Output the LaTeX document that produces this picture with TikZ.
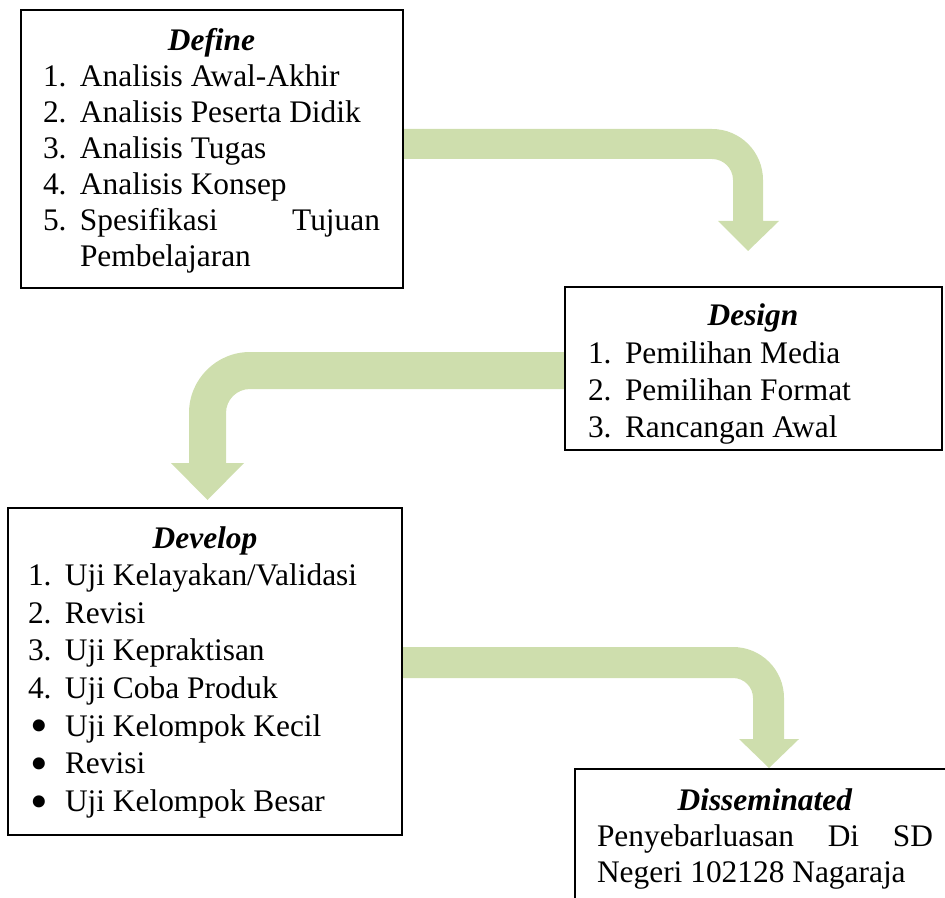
\documentclass[tikz,border=0pt]{standalone}
\usepackage{fontspec}
\setmainfont{Liberation Serif}
\usepackage{graphicx}
\usepackage{xcolor}
\usepackage{tikz}
\usetikzlibrary{calc,backgrounds}
\definecolor{leafgreen}{RGB}{206,222,173}
\newlength{\numw}
\setlength{\numw}{18.5pt}
\newcommand{\numline}[2]{\makebox[\numw][l]{#1}#2\par}
\newcommand{\stagetitle}[1]{\centerline{\textbf{\textit{#1}}}}
\newcommand{\bigdot}{\hspace{1.5pt}\smash{\raisebox{-0.22em}{\scalebox{1.6}{\textbullet}}}}

\begin{document}
\begin{tikzpicture}[x=0.5pt, y=-0.5pt,
  stagebox/.style={draw=black, line width=1pt, inner sep=0pt, outer sep=0pt, anchor=north west},
  stagetext/.style={inner sep=0pt, outer sep=0pt, anchor=base west},
  bentarrow/.style={fill=leafgreen, draw=none}]
  \useasboundingbox (0,0) rectangle (945,897);
  \node[stagebox, minimum width=191pt, minimum height=139pt] (define) at (21,10) {};
  \node[stagebox, minimum width=188.5pt, minimum height=81.5pt] (design) at (565,287) {};
  \node[stagebox, minimum width=197pt, minimum height=163.5pt] (develop) at (8,508) {};
  \node[stagebox, minimum width=192.5pt, minimum height=75.5pt] (dissem) at (575,769) {};
  \node[stagetext] (defineText) at (43,51) {\begin{minipage}[t]{168.5pt}\fontsize{15.7}{18}\selectfont
    \stagetitle{Define}
    \numline{1.}{Analisis Awal-Akhir}
    \numline{2.}{Analisis Peserta Didik}
    \numline{3.}{Analisis Tugas}
    \numline{4.}{Analisis Konsep}
    \numline{5.}{Spesifikasi\hfill Tujuan}
    \numline{}{Pembelajaran}
  \end{minipage}};
  \begin{scope}
    \clip (design.north west) rectangle (design.south east);
    \node[stagetext] (designText) at (588,326) {\begin{minipage}[t]{165pt}\fontsize{15.7}{18.6}\selectfont
      \stagetitle{Design}
      \numline{1.}{Pemilihan Media}
      \numline{2.}{Pemilihan Format}
      \numline{3.}{Rancangan Awal}
    \end{minipage}};
  \end{scope}
  \node[stagetext] (developText) at (28,548) {\begin{minipage}[t]{177pt}\fontsize{15.7}{18.8}\selectfont
    \stagetitle{Develop}
    \numline{1.}{Uji Kelayakan/Validasi}
    \numline{2.}{Revisi}
    \numline{3.}{Uji Kepraktisan}
    \numline{4.}{Uji Coba Produk}
    \numline{\bigdot}{Uji Kelompok Kecil}
    \numline{\bigdot}{Revisi}
    \numline{\bigdot}{Uji Kelompok Besar}
  \end{minipage}};
  \node[stagetext] (dissemText) at (597,810) {\begin{minipage}[t]{168pt}\fontsize{15.7}{18}\selectfont
    \stagetitle{Disseminated}
    Penyebarluasan\hfill Di\hfill SD\par
    Negeri 102128 Nagaraja\par
  \end{minipage}};
  \begin{pgfonlayer}{background}
    \fill[bentarrow] (define.east |- 0,129) -- (712,129) arc[start angle=-90, end angle=0, radius=51] -- (763,221) -- (779,221) -- (748,251) -- (718,221) -- (733,221) -- (733,180) arc[start angle=0, end angle=-90, radius=21] -- (define.east |- 0,159) -- cycle;
    \fill[bentarrow] (design.west |- 0,352) -- (250,352) arc[start angle=-90, end angle=-180, radius=61] -- (189,463) -- (171,463) -- (207.5,500) -- (244,463) -- (226,463) -- (226,413) arc[start angle=180, end angle=270, radius=24] -- (design.west |- 0,389) -- cycle;
    \fill[bentarrow] (develop.east |- 0,647) -- (733,647) arc[start angle=-90, end angle=0, radius=51] -- (784,739) -- (799,739) -- (769,768) -- (739,739) -- (753,739) -- (753,698) arc[start angle=0, end angle=-90, radius=20] -- (develop.east |- 0,678) -- cycle;
  \end{pgfonlayer}
\end{tikzpicture}
\end{document}
